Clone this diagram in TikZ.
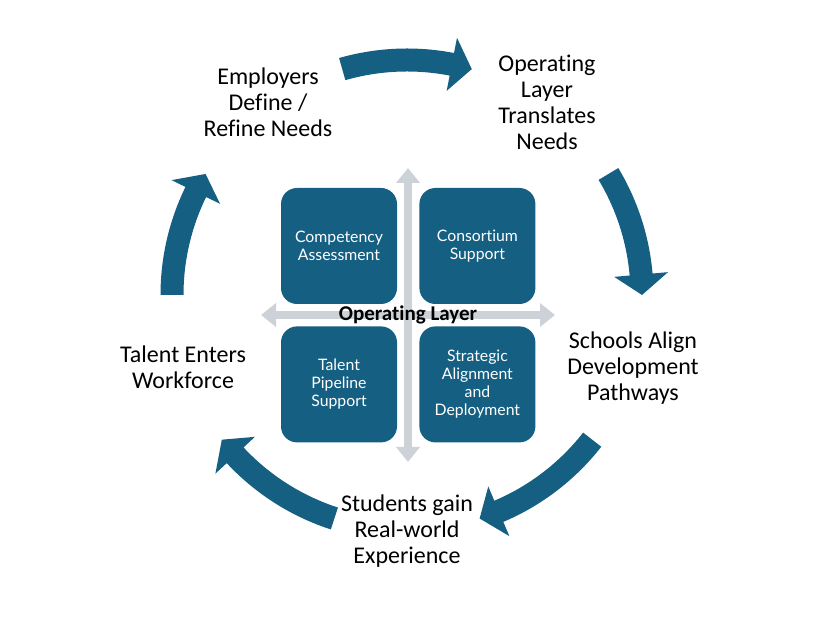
\documentclass[tikz,border=0pt]{standalone}
\usepackage{fontspec}
\setmainfont[Ligatures=NoCommon]{Carlito}
\newfontfamily\boxfont[Ligatures=NoCommon]{Lato}
\usetikzlibrary{arrows.meta, positioning, calc}
\definecolor{cycleblue}{HTML}{156082}
\definecolor{crossgray}{HTML}{CDD2D9}

% curved block arrow on the cycle: #1 tail angle, #2 tip angle
\newcommand{\cyclearrow}[2]{%
  \fill[cycleblue] (#1:246.5pt) arc[start angle=#1, end angle=#2+5, radius=246.5pt]
    -- (#2+5:262pt) -- (#2:235pt) -- (#2+5:208pt) -- (#2+5:223.5pt)
    arc[start angle=#2+5, end angle=#1, radius=223.5pt] -- cycle;}

\begin{document}
\begin{tikzpicture}[
    x=1pt, y=1pt,
    node distance=22pt,
    quad/.style={rectangle, fill=cycleblue, rounded corners=16pt, minimum size=116pt, inner sep=4pt, text width=108pt, align=center, text=white, font=\boxfont\fontsize{15.8}{18}\selectfont},
    stage/.style={align=center, font=\fontsize{24}{26}\selectfont},
    cross/.style={{Triangle[length=15pt,width=23pt]}-{Triangle[length=15pt,width=23pt]}, line width=8pt, crossgray}
  ]
    \useasboundingbox (0,0) rectangle (816,623);
    \coordinate (hub) at (407,328);

    % the five arrows of the cycle
    \begin{scope}[shift={(hub)}]
      \cyclearrow{106}{74}
      \cyclearrow{31}{0}
      \cyclearrow{-38}{-72}
      \cyclearrow{-108}{-142}
      \cyclearrow{180}{149}
    \end{scope}

    % grey cross behind the quadrants
    \coordinate (mid) at (408,308);
    \coordinate (crossN) at (408,455);
    \coordinate (crossS) at (408,161);
    \coordinate (crossW) at (261,308);
    \coordinate (crossE) at (555,308);
    \draw[cross] (crossS) -- (crossN);
    \draw[cross] (crossW) -- (crossE);

    \node[quad] (comp) at (339,377) {Competency\\Assessment};
    \node[quad, right=of comp] (cons) {Consortium\\Support};
    \node[quad, below=of comp] (talent) {Talent\\Pipeline\\Support};
    \node[quad, below=of cons] (strat) {Strategic\\Alignment\\and\\Deployment};
    \node[font=\fontsize{21}{25}\selectfont\bfseries] (oplayer) at (mid) {Operating Layer};

    \node[stage] (employers) at (268,521) {Employers\\Define /\\Refine Needs};
    \node[stage] (translate) at (547,521) {Operating\\Layer\\Translates\\Needs};
    \node[stage] (schools) at (633,255) {Schools Align\\Development\\Pathways};
    \node[stage] (students) at (407,92) {Students gain\\Real-world\\Experience};
    \node[stage] (workforce) at (183,256) {Talent Enters\\Workforce};
  \end{tikzpicture}
\end{document}
